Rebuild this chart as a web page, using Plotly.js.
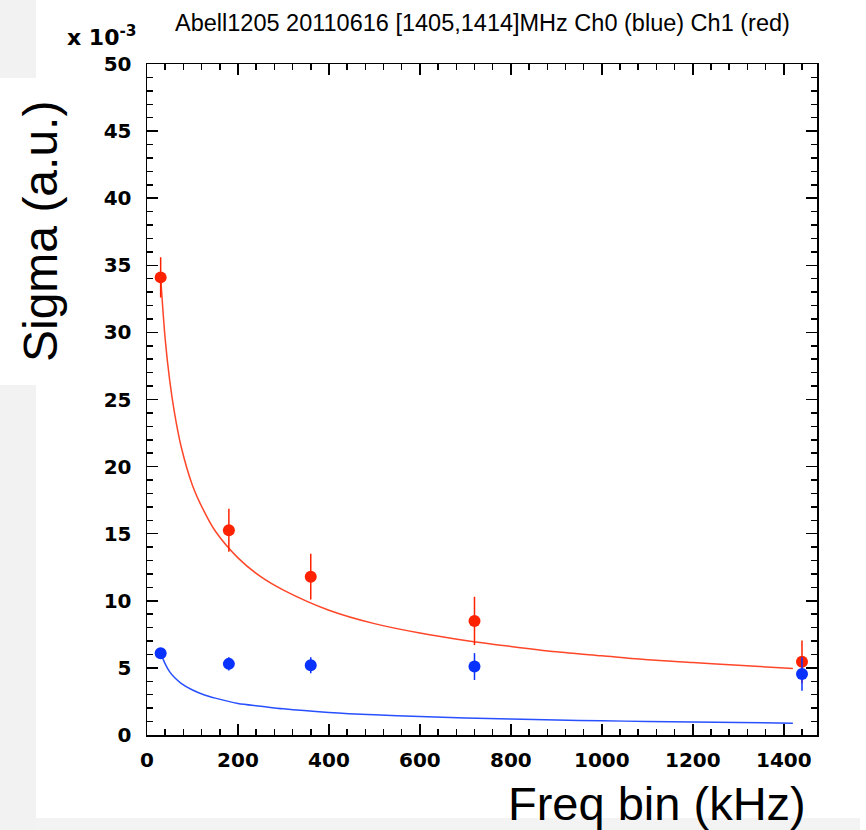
<!DOCTYPE html>
<html>
<head>
<meta charset="utf-8">
<script src="https://cdn.plot.ly/plotly-3.0.1.min.js"></script>
<style>html,body{margin:0;padding:0;background:#fff;}#chart{width:866px;height:830px;}</style>
</head>
<body>
<div id="chart"></div>
<script>
// Measured data points (Sigma in units of 1e-3)
const freqBins = [30, 180, 360, 720, 1440];
const ch0Sigma = [6.1, 5.3, 5.2, 5.1, 4.55];
const ch0Err   = [0.3, 0.5, 0.6, 1.0, 1.25];
const ch1Sigma = [34.1, 15.25, 11.8, 8.5, 5.45];
const ch1Err   = [1.5, 1.6, 1.7, 1.8, 1.6];

// Fit curves
const fitX    = [30, 40, 50, 60, 75, 100, 125, 150, 200, 250, 300, 400, 500, 600, 700, 800, 900, 1000, 1100, 1200, 1300, 1420];
const fitCh1  = [34.1, 29.5, 26.4, 24.1, 21.5, 18.6, 16.7, 15.2, 13.2, 11.8, 10.8, 9.3, 8.3, 7.6, 7.05, 6.6, 6.2, 5.9, 5.6, 5.4, 5.2, 4.95];
const fitCh0  = [6.1, 5.3, 4.7, 4.3, 3.85, 3.35, 3.0, 2.75, 2.35, 2.15, 1.95, 1.68, 1.5, 1.37, 1.27, 1.19, 1.12, 1.06, 1.01, 0.97, 0.93, 0.88];

const xTickVals = [0, 200, 400, 600, 800, 1000, 1200, 1400];
const yTickVals = [0, 5, 10, 15, 20, 25, 30, 35, 40, 45, 50];

const RED = 'rgb(255,34,0)';
const BLUE = 'rgb(10,50,255)';

const traces = [
  {x: fitX, y: fitCh1, mode: 'lines', line: {color: 'rgb(255,70,40)', width: 1.5, shape: 'spline', smoothing: 0.8}, hoverinfo: 'skip'},
  {x: fitX, y: fitCh0, mode: 'lines', line: {color: 'rgb(40,80,255)', width: 1.5, shape: 'spline', smoothing: 0.8}, hoverinfo: 'skip'},
  {x: freqBins, y: ch1Sigma, mode: 'markers', marker: {color: RED, size: 12},
   error_y: {type: 'data', array: ch1Err, visible: true, color: RED, thickness: 1.5, width: 0}},
  {x: freqBins, y: ch0Sigma, mode: 'markers', marker: {color: BLUE, size: 12},
   error_y: {type: 'data', array: ch0Err, visible: true, color: BLUE, thickness: 1.5, width: 0}}
];

const L = 147, T = 64, W = 670, H = 671;
function px2x(p){ return (p - L) / W; }
function px2y(p){ return (T + H - p) / H; }

const tickFont = {family: 'DejaVu Sans, Liberation Sans, sans-serif', size: 20, color: '#000', weight: 'bold'};

const layout = {
  width: 866, height: 830,
  margin: {l: L, r: 866 - L - W, t: T, b: 830 - T - H},
  paper_bgcolor: '#fff', plot_bgcolor: '#fff',
  showlegend: false,
  xaxis: {
    range: [0, 1473], tickvals: xTickVals, ticktext: xTickVals.map(String),
    ticks: 'inside', ticklen: 11, tickwidth: 1.5, tickcolor: '#000',
    minor: {dtick: 40, tick0: 0, ticks: 'inside', ticklen: 6, tickwidth: 1.5, tickcolor: '#000'},
    showline: true, linecolor: '#000', linewidth: 1.5, mirror: 'allticks',
    showgrid: false, zeroline: false, tickfont: tickFont, ticklabelstandoff: 6
  },
  yaxis: {
    range: [0, 50], tickvals: yTickVals, ticktext: yTickVals.map(String),
    ticks: 'inside', ticklen: 11, tickwidth: 1.5, tickcolor: '#000',
    minor: {dtick: 1, tick0: 0, ticks: 'inside', ticklen: 6, tickwidth: 1.5, tickcolor: '#000'},
    showline: true, linecolor: '#000', linewidth: 1.5, mirror: 'allticks',
    showgrid: false, zeroline: false, tickfont: tickFont, ticklabelstandoff: 10
  },
  shapes: [
    {type: 'rect', xref: 'paper', yref: 'paper', x0: px2x(0), x1: px2x(36), y0: px2y(78), y1: px2y(0), fillcolor: '#f2f2f2', line: {width: 0}, layer: 'below'},
    {type: 'rect', xref: 'paper', yref: 'paper', x0: px2x(0), x1: px2x(36), y0: px2y(830), y1: px2y(385), fillcolor: '#f2f2f2', line: {width: 0}, layer: 'below'},
    {type: 'rect', xref: 'paper', yref: 'paper', x0: px2x(36), x1: px2x(860), y0: px2y(830), y1: px2y(818), fillcolor: '#f3f3f3', line: {width: 0}, layer: 'below'}
  ],
  annotations: [
    {text: 'Abell1205 20110616 [1405,1414]MHz Ch0 (blue) Ch1 (red)', xref: 'paper', yref: 'paper',
     x: px2x(482), y: px2y(23), xanchor: 'center', yanchor: 'middle', showarrow: false,
     font: {family: 'Liberation Sans, Arial, sans-serif', size: 23.5, color: '#000'}},
    {text: 'x 10<sup>-3</sup>', xref: 'paper', yref: 'paper', x: px2x(65), y: px2y(52), xanchor: 'left', yanchor: 'bottom',
     showarrow: false, font: {family: 'DejaVu Sans, Liberation Sans, sans-serif', size: 22, color: '#000', weight: 'bold'}},
    {text: 'Sigma (a.u.)', xref: 'paper', yref: 'paper', x: px2x(40), y: px2y(231), xanchor: 'center', yanchor: 'middle',
     textangle: -90, showarrow: false, font: {family: 'Liberation Sans, Arial, sans-serif', size: 48, color: '#000'}},
    {text: 'Freq bin (kHz)', xref: 'paper', yref: 'paper', x: px2x(808), y: px2y(804), xanchor: 'right', yanchor: 'middle',
     showarrow: false, font: {family: 'Liberation Sans, Arial, sans-serif', size: 47, color: '#000'}}
  ]
};

Plotly.newPlot('chart', traces, layout, {displayModeBar: false, staticPlot: true});
</script>
</body>
</html>
